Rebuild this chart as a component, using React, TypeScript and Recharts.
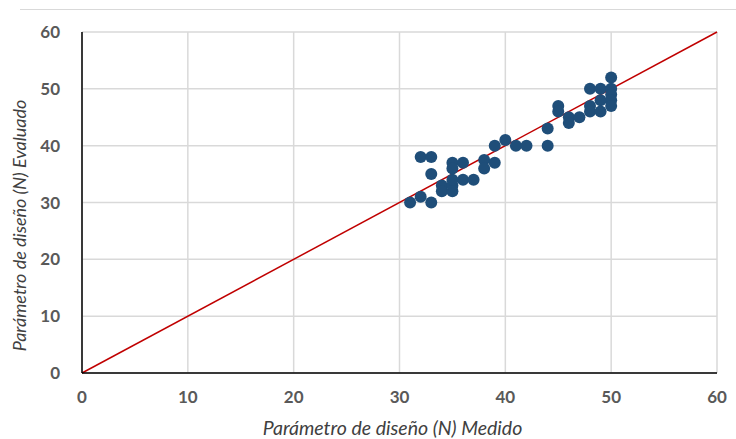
import React from "react";
import {
  ScatterChart,
  Scatter,
  XAxis,
  YAxis,
  CartesianGrid,
  ReferenceLine,
  Label,
} from "recharts";

const measured = [
  31, 32, 32, 33, 33, 33, 34, 34, 35, 35, 35, 35, 35, 36, 36, 37, 38, 38, 39, 39,
  40, 41, 42, 44, 44, 45, 45, 46, 46, 47, 48, 48, 48, 49, 49, 49, 50, 50, 50, 50, 50,
];
const evaluated = [
  30, 31, 38, 38, 35, 30, 33, 32, 32, 33, 34, 37, 36, 37, 34, 34, 37.5, 36, 40, 37,
  41, 40, 40, 43, 40, 47, 46, 45, 44, 45, 50, 47, 46, 50, 48, 46, 52, 50, 49, 48, 47,
];
const ticks = [0, 10, 20, 30, 40, 50, 60];
const lineStart = { x: 0, y: 0 };
const lineEnd = { x: 60, y: 60 };

const points = measured.map((m, i) => ({ x: m, y: evaluated[i] }));

const tickStyle = { fill: "#595959", fontSize: 17, fontWeight: 700, fontFamily: "Lato, sans-serif" };
const titleStyle = { fill: "#404040", fontSize: 18, fontStyle: "italic", fontFamily: "Lato, sans-serif" };

export default function App() {
  return (
    <div style={{ position: "absolute", left: 0, top: 0, width: 736, height: 439, background: "#fff" }}>
      <div style={{ position: "absolute", left: 20, top: 9, width: 716, height: 1, background: "#d9d9d9" }} />
      <ScatterChart
        width={736}
        height={439}
        margin={{ top: 32, right: 19, bottom: 36, left: 20 }}
      >
        <CartesianGrid stroke="#d9d9d9" strokeWidth={1.5} />
        <XAxis
          type="number"
          dataKey="x"
          domain={[0, 60]}
          ticks={ticks}
          interval={0}
          tickLine={false}
          axisLine={{ stroke: "#000", strokeWidth: 1.5 }}
          tick={tickStyle}
          tickMargin={12}
          height={30}
        >
          <Label
            value="Parámetro de diseño (N) Medido"
            position="bottom"
            offset={18}
            dx={-7}
            style={{ ...titleStyle, fontSize: 19.5 }}
          />
        </XAxis>
        <YAxis
          type="number"
          dataKey="y"
          domain={[0, 60]}
          ticks={ticks}
          interval={0}
          tickLine={false}
          axisLine={{ stroke: "#000", strokeWidth: 1.5 }}
          tick={tickStyle}
          tickMargin={16}
          width={62}
        >
          <Label
            value="Parámetro de diseño (N) Evaluado"
            angle={-90}
            position="insideLeft"
            offset={0}
            dy={23}
            style={{ ...titleStyle, textAnchor: "middle" }}
          />
        </YAxis>
        <ReferenceLine
          segment={[lineStart, lineEnd]}
          stroke="#C00000"
          strokeWidth={1.5}
          ifOverflow="extendDomain"
        />
        <Scatter
          data={points}
          fill="#1F4E79"
          isAnimationActive={false}
          shape={(p: any) => <circle cx={p.cx} cy={p.cy} r={6} fill="#1F4E79" />}
        />
      </ScatterChart>
    </div>
  );
}
